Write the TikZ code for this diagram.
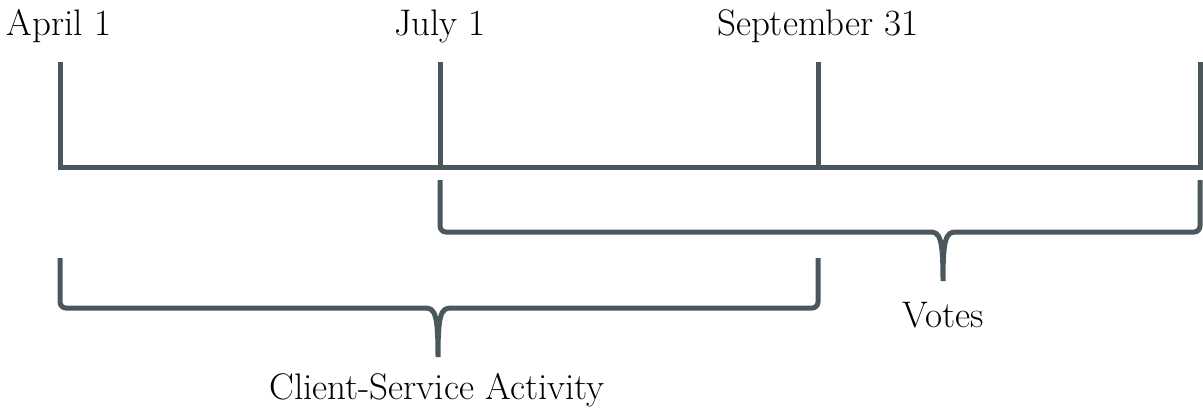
\documentclass[tikz,border=0pt]{standalone}
\usepackage{tikz}
\definecolor{slate}{RGB}{74, 87, 92}
\tikzset{
  axisline/.style={draw=slate, line width=5pt},
  braceline/.style={draw=slate, line width=5pt, rounded corners=6pt},
  datelabel/.style={anchor=base, inner sep=0pt, font=\fontsize{37}{44}\selectfont},
}

\begin{document}
\begin{tikzpicture}[x=1pt, y=-1pt]
\useasboundingbox (0, 0) rectangle (1203, 408);
% Zeitachse
\coordinate (apr) at (60, 167);
\coordinate (jul) at (440, 167);
\coordinate (sep) at (818, 167);
\coordinate (end) at (1200, 167);
\draw[axisline] (60, 62) -- (apr) -- (end) -- (1200, 62);
\draw[axisline] (jul) -- (440, 62);
\draw[axisline] (sep) -- (818, 62);
\node[datelabel] (aprlabel) at (59, 35) {April 1};
\node[datelabel] (jullabel) at (440, 35) {July 1};
\node[datelabel] (seplabel) at (818, 35) {September 31};
% Klammern
\draw[braceline] (440, 180) -- (440, 232) -- (930, 232);
\draw[draw=slate, line width=5pt] (930, 232)
  .. controls (940, 232) and (943, 238) .. (943, 281)
  .. controls (943, 238) and (946, 232) .. (956, 232);
\draw[braceline] (956, 232) -- (1200, 232) -- (1200, 180);
\node[datelabel] (voteslabel) at (943, 327) {Votes};
\draw[braceline] (60, 258) -- (60, 308) -- (425, 308);
\draw[draw=slate, line width=5pt] (425, 308)
  .. controls (435, 308) and (438, 314) .. (438, 357)
  .. controls (438, 314) and (441, 308) .. (451, 308);
\draw[braceline] (451, 308) -- (818, 308) -- (818, 258);
\node[datelabel] (clientlabel) at (437, 399) {Client-Service Activity};
\end{tikzpicture}
\end{document}
